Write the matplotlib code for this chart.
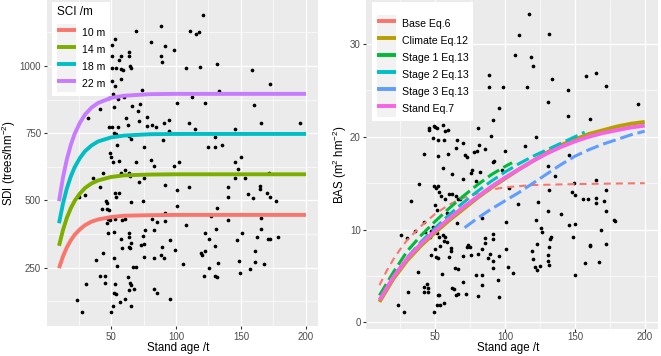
import matplotlib
matplotlib.use("Agg")
import matplotlib.pyplot as plt
from matplotlib.patches import Rectangle
from matplotlib.lines import Line2D
from matplotlib.legend_handler import HandlerTuple

plt.rcParams["font.family"] = ["Liberation Sans", "DejaVu Sans"]
plt.rcParams["mathtext.fontset"] = "custom"
plt.rcParams["mathtext.rm"] = "Liberation Sans"
plt.rcParams["mathtext.it"] = "Liberation Sans:italic"

# ---- left panel: stand density index ----
sdi_age = [120.5, 88.5, 69.2, 110.8, 115.4, 117.4, 53.3, 80.8, 91.5, 50.5,
           98.7, 64.1, 50.8, 57.7, 88.5, 55.9, 89.2, 63.6, 131.3, 50.8,
           53.8, 57.7, 59.5, 65.4, 64.6, 107.7, 118.5, 158.5, 57.4, 50.5,
           53.3, 73.8, 133.3, 172.3, 51.8, 48.2, 55.1, 59.7, 112.3, 72.3,
           122.6, 100.5, 160.3, 32.3, 41.5, 52.6, 66.2, 70.5, 61.5, 77.4,
           94.9, 90.8, 71.3, 109.7, 165.4, 195.4, 48.5, 50.5, 55.1, 63.1,
           77.7, 81.5, 84.6, 114.6, 94.4, 145.4, 52.6, 53.8, 64.1, 65.6,
           90.3, 130.3, 135.1, 124.4, 130.3, 54.6, 75.4, 49.5, 50.3, 56.4,
           51.5, 69.2, 81.0, 102.6, 83.3, 98.7, 61.0, 57.7, 35.9, 44.1,
           63.6, 64.9, 71.3, 75.6, 150.0, 145.4, 147.7, 145.4, 153.3, 171.8,
           91.5, 109.7, 41.5, 100.5, 140.0, 164.9, 164.9, 170.0, 155.1, 159.0,
           140.0, 172.3, 176.9, 30.0, 25.6, 56.4, 53.3, 53.8, 65.6, 74.4,
           46.2, 47.2, 100.5, 43.1, 46.9, 48.2, 131.5, 91.3, 126.9, 47.7,
           49.2, 52.8, 58.5, 60.5, 165.4, 46.7, 81.5, 85.4, 91.8, 139.7,
           107.4, 165.4, 83.1, 75.9, 47.7, 52.6, 64.1, 63.6, 74.4, 130.8,
           122.3, 125.6, 150.8, 162.1, 170.6, 172.3, 178.2, 146.7, 57.4, 65.4,
           75.4, 95.4, 58.5, 64.1, 64.6, 73.3, 89.2, 130.3, 122.3, 160.5,
           99.2, 43.6, 75.4, 83.3, 88.5, 91.0, 52.6, 38.5, 119.7, 119.2,
           148.2, 161.0, 132.3, 105.4, 54.6, 67.2, 69.2, 125.4, 167.4, 157.2,
           149.2, 41.8, 45.6, 62.8, 121.3, 130.3, 131.8, 45.6, 53.3, 64.9,
           65.1, 30.8, 63.6, 67.7, 83.3, 52.6, 53.8, 85.4, 95.4, 61.0,
           23.6, 56.9, 65.4, 51.3, 27.7, 50.0]
sdi_val = [1190, 1150, 1128, 1128, 1118, 1126, 1099, 1087, 1074, 1076,
           1059, 1053, 1035, 1038, 1035, 1022, 1015, 1038, 1006, 993,
           994, 988, 985, 991, 998, 994, 995, 985, 950, 942,
           926, 911, 907, 933, 895, 882, 876, 886, 883, 860,
           862, 861, 855, 807, 841, 846, 851, 833, 805, 809,
           799, 789, 795, 787, 787, 787, 772, 774, 773, 781,
           777, 779, 772, 765, 758, 765, 750, 746, 740, 730,
           725, 737, 707, 698, 699, 707, 699, 675, 663, 648,
           643, 644, 649, 644, 628, 628, 613, 603, 582, 601,
           601, 592, 570, 585, 663, 642, 618, 585, 582, 601,
           558, 549, 551, 539, 549, 555, 544, 529, 523, 510,
           512, 512, 499, 519, 514, 529, 527, 514, 494, 498,
           497, 492, 479, 467, 467, 465, 472, 452, 443, 432,
           427, 430, 427, 430, 435, 415, 430, 421, 422, 427,
           408, 393, 390, 391, 380, 381, 378, 365, 368, 395,
           378, 358, 380, 363, 357, 358, 362, 353, 358, 343,
           339, 352, 324, 328, 322, 333, 327, 332, 313, 311,
           316, 306, 290, 287, 296, 285, 284, 279, 297, 303,
           276, 271, 266, 262, 255, 254, 254, 250, 262, 245,
           231, 219, 219, 214, 218, 217, 214, 194, 189, 194,
           184, 188, 167, 172, 172, 157, 152, 155, 134, 132,
           129, 122, 108, 108, 86, 86]

curve_age = [10, 13, 16, 19, 22, 26, 30, 35, 40, 50, 60, 80, 100, 150, 200]
sdi_10m = [248, 291, 325, 351, 372, 392, 408, 421, 429, 438, 443, 445, 446, 446, 446]
sdi_14m = [331, 389, 435, 470, 498, 525, 546, 563, 574, 587, 593, 596, 597, 597, 597]
sdi_18m = [415, 487, 544, 588, 623, 657, 683, 704, 719, 734, 741, 746, 747, 747, 747]
sdi_22m = [497, 584, 652, 705, 747, 788, 819, 845, 862, 881, 889, 895, 896, 896, 896]
sci_labels = ["10 m", "14 m", "18 m", "22 m"]
sci_colors = ["#F8766D", "#7CAE00", "#00BFC4", "#C77CFF"]

# ---- right panel: basal area ----
bas_age = [117.0, 110.3, 131.3, 107.2, 118.4, 120.3, 88.8, 133.5, 158.1, 165.3,
           88.3, 98.3, 115.6, 172.5, 145.2, 73.4, 130.6, 95.5, 195.5, 145.2,
           160.5, 91.1, 45.2, 45.7, 49.8, 51.2, 55.7, 58.9, 57.2, 49.3,
           80.4, 90.2, 48.1, 51.7, 56.2, 65.3, 69.6, 122.2, 81.3, 85.4,
           114.6, 100.2, 78.0, 79.9, 65.1, 41.6, 52.2, 58.9, 71.3, 72.5,
           92.3, 91.1, 145.5, 55.7, 62.0, 75.6, 76.3, 82.3, 97.8, 130.6,
           135.9, 164.8, 172.5, 79.4, 70.1, 38.0, 48.8, 51.7, 50.5, 52.9,
           60.0, 61.9, 64.8, 66.1, 54.3, 57.2, 67.9, 32.5, 102.8, 131.8,
           149.3, 147.8, 150.2, 155.5, 159.3, 164.8, 165.1, 170.8, 123.7, 109.3,
           50.0, 51.0, 58.6, 130.4, 140.2, 172.5, 41.6, 83.5, 65.3, 100.7,
           122.2, 145.9, 150.2, 177.8, 178.5, 35.4, 25.1, 29.4, 42.8, 46.9,
           46.2, 48.1, 49.3, 51.2, 52.4, 55.3, 56.9, 58.6, 56.5, 53.3,
           91.1, 91.1, 85.6, 73.2, 72.7, 74.6, 85.9, 83.5, 61.4, 61.4,
           50.0, 47.1, 59.6, 50.2, 51.7, 70.1, 75.4, 80.4, 89.2, 100.7,
           122.7, 133.0, 148.3, 168.7, 160.5, 161.0, 172.5, 130.6, 131.8, 119.4,
           125.4, 126.3, 132.5, 87.6, 91.1, 95.5, 120.3, 130.6, 131.1, 37.8,
           54.8, 64.4, 66.0, 91.6, 102.0, 121.5, 122.7, 125.1, 105.5, 156.9,
           167.0, 149.8, 79.2, 69.6, 94.6, 83.7, 83.3, 43.9, 42.2, 45.0,
           41.8, 44.9, 62.0, 63.6, 65.1, 66.3, 71.8, 30.6, 51.7, 52.9,
           80.4, 95.5, 23.0, 51.2, 53.3, 56.5, 27.3, 49.3]
bas_val = [33.2, 31.0, 31.1, 28.8, 28.6, 27.6, 26.7, 26.2, 26.6, 26.9,
           25.4, 25.4, 25.4, 25.5, 25.0, 24.1, 23.8, 23.1, 23.5, 22.2,
           21.9, 21.8, 20.7, 20.9, 21.1, 20.9, 21.3, 20.7, 20.6, 21.2,
           20.9, 20.1, 19.9, 19.6, 19.7, 19.7, 19.3, 20.0, 19.1, 18.7,
           19.0, 18.5, 18.4, 18.5, 18.8, 18.1, 17.9, 18.1, 18.0, 17.8,
           17.4, 17.3, 18.0, 16.6, 16.0, 16.1, 16.4, 16.2, 16.4, 16.8,
           15.8, 15.3, 14.3, 15.2, 15.5, 14.9, 14.7, 14.7, 14.5, 14.0,
           13.8, 13.8, 13.6, 13.3, 13.6, 13.3, 13.3, 13.1, 14.5, 14.3,
           15.0, 14.0, 13.7, 13.3, 13.3, 13.4, 12.9, 13.1, 13.0, 12.7,
           12.6, 12.1, 11.8, 12.0, 11.7, 12.0, 10.8, 11.2, 10.7, 10.8,
           11.0, 10.5, 10.6, 11.0, 10.9, 9.8, 9.4, 9.1, 9.7, 9.8,
           9.2, 10.3, 10.1, 9.6, 9.2, 9.4, 9.2, 8.7, 8.8, 8.2,
           9.5, 9.0, 9.1, 8.3, 8.1, 8.1, 8.5, 7.9, 8.0, 7.7,
           7.9, 7.3, 7.0, 7.0, 6.9, 7.1, 7.3, 7.4, 7.4, 7.9,
           8.4, 9.2, 9.2, 9.9, 8.3, 8.2, 8.4, 7.3, 8.1, 7.7,
           10.2, 9.7, 9.0, 6.9, 6.6, 7.1, 6.8, 6.6, 6.2, 5.4,
           5.2, 5.9, 5.8, 5.9, 6.0, 6.0, 5.6, 6.1, 5.3, 6.4,
           6.5, 5.1, 5.1, 4.3, 4.6, 5.1, 4.0, 4.1, 3.8, 3.7,
           3.3, 3.3, 3.7, 3.6, 2.9, 3.1, 3.1, 3.3, 2.9, 2.9,
           2.8, 2.7, 1.9, 1.9, 1.9, 2.1, 1.1, 1.1]

base_age = [10, 15, 20, 25, 30, 40, 50, 60, 70, 80, 90, 100, 120, 150, 200]
base_bas = [4.0, 5.5, 6.8, 7.9, 8.9, 10.4, 11.7, 12.7, 13.4, 13.9, 14.3, 14.55, 14.8, 14.9, 15.0]
full_age = [10, 20, 30, 40, 50, 60, 70, 80, 90, 100, 110, 120, 130, 140, 150, 160, 170, 180, 190, 200]
climate_bas = [2.2, 4.7, 6.7, 8.3, 9.7, 11.0, 12.2, 13.4, 14.5, 15.5,
               16.5, 17.4, 18.3, 19.1, 19.7, 20.3, 20.7, 21.1, 21.4, 21.6]
stand_bas = [2.4, 4.9, 6.9, 8.5, 9.9, 11.2, 12.4, 13.5, 14.6, 15.6,
             16.5, 17.4, 18.2, 18.9, 19.5, 20.0, 20.4, 20.7, 21.0, 21.2]
stage1_age = [10, 20, 30, 40, 50, 60, 70, 80, 90, 100, 105]
stage1_bas = [2.9, 5.4, 7.7, 9.4, 10.9, 12.3, 13.6, 14.8, 15.9, 16.8, 17.2]
stage2_age = [30, 40, 50, 60, 70, 80, 90, 100, 110, 120, 130, 140, 150, 157]
stage2_bas = [7.0, 8.7, 10.2, 11.6, 12.9, 14.1, 15.2, 16.2, 17.1, 17.9, 18.6, 19.3, 20.0, 20.5]
stage3_age = [71, 80, 90, 100, 110, 120, 130, 140, 150, 160, 170, 180, 190, 200]
stage3_bas = [10.2, 11.2, 12.2, 13.1, 14.0, 15.0, 16.0, 17.0, 17.9, 18.6, 19.2, 19.7, 20.2, 20.6]
model_labels = ["Base Eq.6", "Climate Eq.12", "Stage 1 Eq.13", "Stage 2 Eq.13", "Stage 3 Eq.13", "Stand Eq.7"]
model_colors = ["#F8766D", "#B79F00", "#00BA38", "#00BFC4", "#619CFF", "#F564E3"]


def gg_style(ax):
    ax.set_facecolor("#EBEBEB")
    for s in ax.spines.values():
        s.set_visible(False)
    ax.grid(which="major", color="white", lw=0.9)
    ax.grid(which="minor", color="white", lw=0.45)
    ax.set_axisbelow(True)
    ax.tick_params(which="major", length=2.5, width=0.8, color="#333333",
                   labelcolor="#4D4D4D", labelsize=7, pad=1.5)
    ax.tick_params(which="minor", length=0)


def gg_legend(ax, colors, labels, title, title_size, anchor, sep):
    keys = [(Rectangle((0, 0), 1, 1, facecolor="#F2F2F2", edgecolor="none"),
             Line2D([], [], color=c, lw=2.8, solid_capstyle="butt")) for c in colors]
    leg = ax.legend(keys, labels, handler_map={tuple: HandlerTuple(ndivide=1, pad=0)},
                    loc="upper left", bbox_to_anchor=anchor, borderaxespad=0,
                    frameon=True, facecolor="white", edgecolor="none", framealpha=1,
                    fancybox=False, fontsize=7.6, title=title, title_fontsize=title_size,
                    handlelength=1.8, handleheight=2.1, labelspacing=0,
                    handletextpad=0.57, borderpad=0.44, alignment="left")
    leg._legend_box.sep = sep
    return leg


fig = plt.figure(figsize=(6.61, 3.56), dpi=100)
ax1 = fig.add_axes([0.0706, 0.0843, 0.4110, 0.9157])
ax2 = fig.add_axes([0.5540, 0.0758, 0.4414, 0.9242])

# left
gg_style(ax1)
ax1.scatter(sdi_age, sdi_val, s=7, color="black", linewidths=0, zorder=2)
for vals, c in zip([sdi_10m, sdi_14m, sdi_18m, sdi_22m], sci_colors):
    ax1.plot(curve_age, vals, color=c, lw=2.8, solid_capstyle="butt", zorder=3)
ax1.set_xlim(0.5, 209.5)
ax1.set_ylim(33, 1245)
ax1.set_xticks([50, 100, 150, 200])
ax1.set_xticks([25, 75, 125, 175], minor=True)
ax1.set_yticks([250, 500, 750, 1000])
ax1.set_yticks([125, 375, 625, 875, 1125], minor=True)
ax1.set_xlabel("Stand age /t", fontsize=8.3)
ax1.set_ylabel("SDI (trees/hm$^{-2}$)", fontsize=8.3)
ax1.xaxis.set_label_coords(0.485, -0.049)
ax1.yaxis.set_label_coords(-0.106, 0.5)
gg_legend(ax1, sci_colors, sci_labels, "SCI /m", 8.5, (0.0197, 0.995), 4.0)

# right
gg_style(ax2)
ax2.tick_params(axis="x", which="major", pad=-0.6)
ax2.scatter(bas_age, bas_val, s=7, color="black", linewidths=0, zorder=2)
ax2.plot(base_age, base_bas, color=model_colors[0], lw=1.5, dashes=(3.4, 2.4), zorder=3)
ax2.plot(full_age, climate_bas, color=model_colors[1], lw=2.8, solid_capstyle="butt", zorder=3)
ax2.plot(stage1_age, stage1_bas, color=model_colors[2], lw=2.2, dashes=(4.3, 1.6), zorder=3)
ax2.plot(stage2_age, stage2_bas, color=model_colors[3], lw=2.2, dashes=(4.3, 1.6), zorder=3)
ax2.plot(stage3_age, stage3_bas, color=model_colors[4], lw=2.2, dashes=(4.3, 1.6), zorder=3)
ax2.plot(full_age, stand_bas, color=model_colors[5], lw=2.8, solid_capstyle="butt", zorder=3)
ax2.set_xlim(0.5, 209.5)
ax2.set_ylim(-0.72, 34.74)
ax2.set_xticks([50, 100, 150, 200])
ax2.set_xticks([25, 75, 125, 175], minor=True)
ax2.set_yticks([0, 10, 20, 30])
ax2.set_yticks([5, 15, 25], minor=True)
ax2.set_xlabel("Stand age /t", fontsize=8.3)
ax2.set_ylabel("BAS (m$^{2}$ hm$^{-2}$)", fontsize=8.3)
ax2.xaxis.set_label_coords(0.485, -0.0395)
ax2.yaxis.set_label_coords(-0.06, 0.5)
gg_legend(ax2, model_colors, model_labels, " ", 3, (0.0198, 0.995), 3.3)

fig.savefig("out.png", dpi=100)
